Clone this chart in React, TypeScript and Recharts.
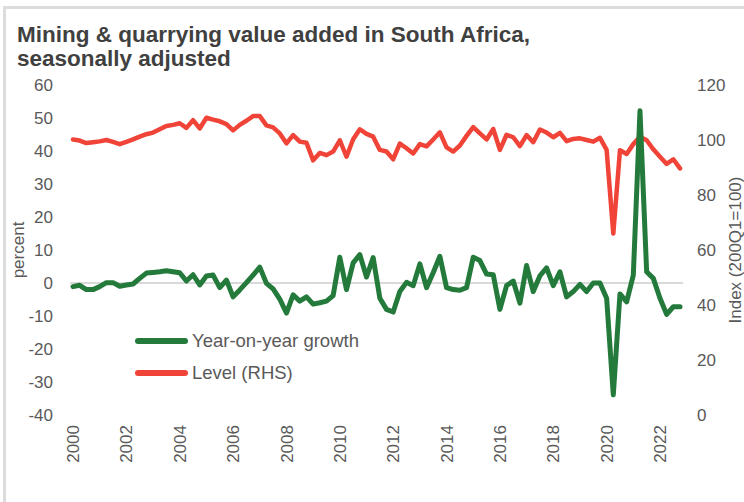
import { LineChart, Line, XAxis, YAxis, ReferenceLine } from 'recharts';

// quarterly, 2000Q1 .. 2022Q4
const START_YEAR = 2000;
const YEAR_TICKS = [0, 8, 16, 24, 32, 40, 48, 56, 64, 72, 80, 88];
const LEFT_TICKS = [-40, -30, -20, -10, 0, 10, 20, 30, 40, 50, 60];
const RIGHT_TICKS = [0, 20, 40, 60, 80, 100, 120];

const growth = [
  -1.1, -0.7, -2.0, -2.0, -1.1, 0.1, 0.1, -1.0, -0.6, -0.3,
  1.4, 3.0, 3.2, 3.4, 3.7, 3.4, 3.1, 0.6, 2.5, -0.6,
  2.1, 2.4, -1.4, 0.9, -4.2, -2.1, 0.1, 2.4, 4.8, -0.1,
  -1.8, -4.9, -9.1, -3.6, -5.5, -4.2, -6.4, -6.0, -5.5, -3.8,
  7.8, -2.0, 6.1, 8.6, 1.8, 7.7, -4.6, -8.0, -8.8, -2.6,
  0.2, -0.8, 5.8, -1.4, 3.1, 8.1, -1.4, -2.0, -2.2, -1.4,
  7.8, 6.8, 2.7, 2.5, -8.0, -0.8, 0.6, -6.1, 5.3, -2.6,
  2.2, 4.6, -0.8, 3.4, -4.2, -2.6, -0.4, -2.6, 0.0, 0.0,
  -4.6, -33.9, -3.3, -5.7, 2.4, 52.2, 3.4, 1.4, -4.6, -9.5,
  -7.2, -7.2,
];

const level = [
  100.2, 99.8, 98.9, 99.2, 99.5, 100.0, 99.3, 98.5, 99.3, 100.2,
  101.2, 102.1, 102.7, 103.9, 105.1, 105.5, 106.1, 104.4, 107.2, 104.2,
  108.1, 107.4, 106.8, 105.8, 103.5, 105.5, 107.0, 108.7, 108.7, 105.3,
  104.6, 102.4, 98.8, 101.8, 99.4, 99.0, 92.6, 95.3, 94.5, 95.8,
  99.9, 93.9, 100.3, 103.9, 102.2, 101.2, 96.4, 95.8, 93.0, 98.7,
  97.0, 95.1, 98.5, 97.7, 100.2, 102.8, 97.3, 95.8, 98.0, 101.5,
  104.7, 102.4, 100.2, 104.0, 96.4, 101.9, 101.0, 97.8, 101.8, 99.2,
  103.8, 102.7, 101.0, 102.6, 99.6, 100.4, 100.6, 100.0, 99.4, 100.8,
  96.4, 66.0, 96.3, 94.9, 98.5, 101.2, 99.9, 96.6, 93.9, 91.3,
  93.0, 89.7,
];

const data = growth.map((g, i) => ({ i, growth: g, level: level[i] }));

const GREEN = '#237a3b';
const RED = '#f04438';
const TEXT = '#595959';
const FONT = '"Liberation Sans", Arial, sans-serif';

function YearTick({ x, y, payload }: { x?: number; y?: number; payload?: { value: number } }) {
  const year = START_YEAR + Math.round((payload?.value ?? 0) / 4);
  return (
    <text x={x} y={y} transform={`rotate(-90, ${x}, ${y})`} textAnchor="end" dy="0.36em"
      fill={TEXT} fontSize={17} fontFamily={FONT}>
      {year}
    </text>
  );
}

function LegendRow({ color, label, top }: { color: string; label: string; top: number }) {
  return (
    <div style={{ position: 'absolute', left: 135, top, display: 'flex', alignItems: 'center' }}>
      <div style={{ width: 53, height: 6, borderRadius: 3, background: color }} />
      <span style={{ marginLeft: 4, fontSize: 18.5, color: TEXT, lineHeight: '20px' }}>{label}</span>
    </div>
  );
}

export default function App() {
  return (
    <div style={{ position: 'absolute', left: 0, top: 0, width: 744, height: 502, background: '#fff',
      fontFamily: FONT, overflow: 'hidden' }}>
      <div style={{ position: 'absolute', left: 3, top: 6, width: 760, height: 520,
        borderTop: '3px solid #dcdcdc', borderLeft: '3px solid #dcdcdc' }} />
      <div style={{ position: 'absolute', left: 17, top: 23, fontSize: 22.5, fontWeight: 'bold',
        lineHeight: '24px', color: '#404040' }}>
        Mining &amp; quarrying value added in South Africa,<br />seasonally adjusted
      </div>

      <div style={{ position: 'absolute', left: 0, top: 0 }}>
        <LineChart width={744} height={502} data={data}
          margin={{ top: 85, right: 6, bottom: 27, left: 20 }}>
          <XAxis dataKey="i" type="number" domain={[0, 91]} ticks={YEAR_TICKS} interval={0}
            padding={{ left: 3, right: 3 }} axisLine={false} tickLine={false}
            tickSize={0} tickMargin={10} height={60} tick={<YearTick />} />
          <YAxis yAxisId="left" domain={[-40, 60]} ticks={LEFT_TICKS} interval={0} width={50}
            axisLine={false} tickLine={false} tickSize={0} tickMargin={17}
            tick={{ fill: TEXT, fontSize: 17, fontFamily: FONT }}
            label={{ value: 'percent', angle: -90, position: 'insideLeft', offset: -2,
              style: { textAnchor: 'middle', fill: TEXT, fontSize: 17, fontFamily: FONT } }} />
          <YAxis yAxisId="right" orientation="right" domain={[0, 120]} ticks={RIGHT_TICKS} interval={0}
            width={55} axisLine={false} tickLine={false} tickSize={0} tickMargin={14}
            tick={{ fill: TEXT, fontSize: 17, fontFamily: FONT, textAnchor: 'start' }}
            label={{ value: 'Index  (200Q1=100)', angle: -90, position: 'insideRight', offset: 3,
              style: { textAnchor: 'middle', fill: TEXT, fontSize: 17, fontFamily: FONT } }} />
          <ReferenceLine yAxisId="left" y={0} stroke="#d9d9d9" strokeWidth={2} />
          <Line yAxisId="right" dataKey="level" stroke={RED} strokeWidth={4.5} dot={false}
            strokeLinejoin="round" strokeLinecap="round" isAnimationActive={false} />
          <Line yAxisId="left" dataKey="growth" stroke={GREEN} strokeWidth={5} dot={false}
            strokeLinejoin="round" strokeLinecap="round" isAnimationActive={false} />
        </LineChart>
      </div>

      <LegendRow color={GREEN} label="Year-on-year growth" top={331} />
      <LegendRow color={RED} label="Level (RHS)" top={363} />
    </div>
  );
}
